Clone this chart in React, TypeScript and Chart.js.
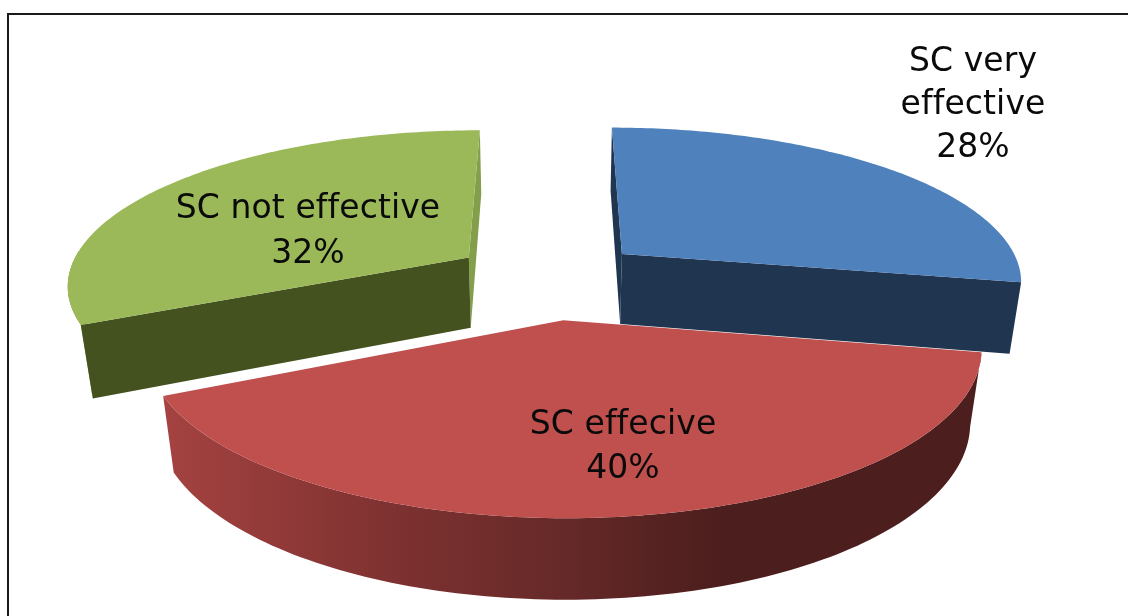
import React, { useEffect, useRef } from "react";
import { Chart, registerables } from "chart.js";

Chart.register(...registerables);

const categories = ["SC very effective", "SC effecive", "SC not effective"];
const shares = [28, 40, 32];
const topColors = ["#4f81bd", "#bf504d", "#9bb958"];
const frontWallColors = ["#1f3550", "#4f1f1e", "#44521f"];
const backWallColors = ["#1f3550", "#4f1f1e", "#839f4b"];
const labelLines = [["SC very", "effective", "28%"], ["SC effecive", "40%"], ["SC not effective", "32%"]];
const explode = [24, 27, 24];
const radiusFactor = [0.995, 0.975, 0.995];

// camera of the 3D pie
const CENTER_X = 549;
const CENTER_Y = 277;
const SCALE_X = 404;
const SCALE_Y = 154.6;
const PERSPECTIVE = 0.1636;
const THICKNESS = 73;
const THICKNESS_PERSPECTIVE = 0.025;
const labelPos = [
  { x: 973, y: 62, gap: 43 },
  { x: 623, y: 425, gap: 44 },
  { x: 308, y: 209, gap: 45 },
];

const project = (arc: any, angle: number, r: number, z: number, factor: number) => {
  const mid = (arc.startAngle + arc.endAngle) / 2;
  const d = arc.options.offset / arc.outerRadius;
  const X = d * Math.cos(mid) + factor * r * Math.cos(angle);
  const Y = d * Math.sin(mid) + factor * r * Math.sin(angle);
  const w = 1 - PERSPECTIVE * Y + THICKNESS_PERSPECTIVE * z;
  return [arc.x + (SCALE_X * X) / w, arc.y + (SCALE_Y * Y + THICKNESS * z) / w];
};

const fillPath = (ctx: CanvasRenderingContext2D, pts: number[][], style: any) => {
  ctx.fillStyle = style;
  ctx.beginPath();
  pts.forEach((p, i) => (i ? ctx.lineTo(p[0], p[1]) : ctx.moveTo(p[0], p[1])));
  ctx.closePath();
  ctx.fill();
};

const pseudo3d = {
  id: "pseudo3d",
  beforeDatasetDraw(chart: any) {
    const ctx: CanvasRenderingContext2D = chart.ctx;
    const arcs = chart.getDatasetMeta(0).data;
    const redWall = ctx.createLinearGradient(160, 0, 720, 0);
    redWall.addColorStop(0, "#a54341");
    redWall.addColorStop(0.4, "#7f3231");
    redWall.addColorStop(0.7, "#672a29");
    redWall.addColorStop(1, "#4c1e1d");
    [0, 2, 1].forEach((i) => {
      const arc = arcs[i];
      const f = radiusFactor[i];
      const n = 120;
      const angles: number[] = [];
      for (let k = 0; k <= n; k++) angles.push(arc.startAngle + ((arc.endAngle - arc.startAngle) * k) / n);
      const top = angles.map((a) => project(arc, a, 1, 0, f));
      const bottom = angles.map((a) => project(arc, a, 1, 1, f));
      if (i === 1) {
        fillPath(ctx, [...top, ...bottom.slice().reverse()], redWall);
      } else if (i === 2) {
        // the wall of the left end is only a thin straight strip
        fillPath(ctx, [...top.slice(0, 30), bottom[0]], backWallColors[2]);
      }
      const wall = (a: number, style: string) =>
        fillPath(ctx, [project(arc, a, 0, 0, f), project(arc, a, 1, 0, f), project(arc, a, 1, 1, f), project(arc, a, 0, 1, f)], style);
      if (i !== 1) {
        wall(i === 0 ? arc.startAngle : arc.endAngle, backWallColors[i]);
        wall(i === 0 ? arc.endAngle : arc.startAngle, frontWallColors[i]);
      }
      fillPath(ctx, [project(arc, 0, 0, 0, f), ...top], arc.options.backgroundColor);
    });
    return false;
  },
  afterDatasetsDraw(chart: any) {
    const ctx: any = chart.ctx;
    ctx.save();
    ctx.fillStyle = "#0a0a0a";
    ctx.font = '33px "DejaVu Sans"';
    ctx.letterSpacing = "0.1px";
    ctx.textAlign = "center";
    ctx.textBaseline = "middle";
    labelLines.forEach((lines, i) => {
      lines.forEach((t, j) => ctx.fillText(t, labelPos[i].x, labelPos[i].y + j * labelPos[i].gap));
    });
    ctx.restore();
  },
};

export default function App() {
  const ref = useRef<HTMLCanvasElement>(null);
  useEffect(() => {
    const chart = new Chart(ref.current!, {
      type: "pie",
      data: {
        labels: categories,
        datasets: [
          {
            data: shares,
            backgroundColor: topColors,
            borderWidth: 0,
            offset: explode,
            radius: 100,
          } as any,
        ],
      },
      options: {
        responsive: false,
        animation: false,
        rotation: 0,
        layout: { padding: { left: 0, right: 1128 - 2 * CENTER_X, top: 0, bottom: 616 - 2 * CENTER_Y } },
        plugins: { legend: { display: false }, tooltip: { enabled: false }, title: { display: false } },
      },
      plugins: [pseudo3d],
    });
    return () => chart.destroy();
  }, []);
  return (
    <div style={{ position: "fixed", left: 0, top: 0, width: 1128, height: 616, background: "#fff", overflow: "hidden" }}>
      <canvas ref={ref} width={1128} height={616} style={{ position: "absolute", left: 0, top: 0, filter: "blur(0.6px)" }} />
      <div style={{ position: "absolute", left: 7, top: 13, width: 1200, height: 800, border: "2px solid #1a1a1a", filter: "blur(0.4px)" }} />
    </div>
  );
}
